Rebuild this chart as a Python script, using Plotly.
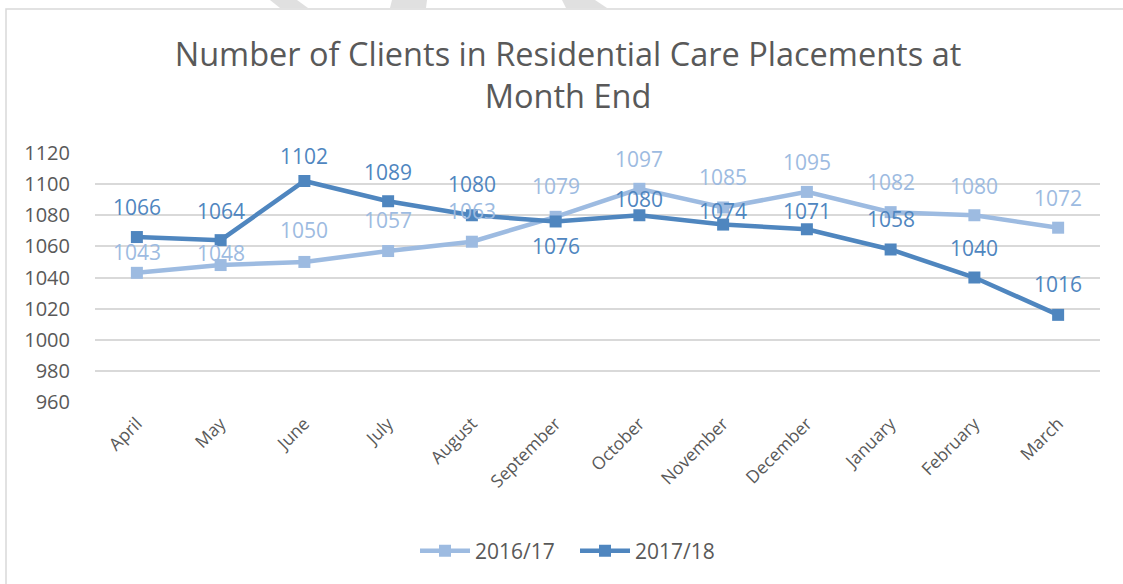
import plotly.graph_objects as go

months = ["April", "May", "June", "July", "August", "September", "October",
          "November", "December", "January", "February", "March"]
series_2016 = [1043, 1048, 1050, 1057, 1063, 1079, 1097, 1085, 1095, 1082, 1080, 1072]
series_2017 = [1066, 1064, 1102, 1089, 1080, 1076, 1080, 1074, 1071, 1058, 1040, 1016]
y_ticks = [960, 980, 1000, 1020, 1040, 1060, 1080, 1100, 1120]

# data-label placement (pixel offset above the marker; negative = below)
label_shift_2016 = [21, 12, 32, 31, 31, 31, 30, 30, 30, 30, 29, 30]
label_shift_2017 = [30, 29, 25, 29, 31, -25, 16, 14, 18, 30, 30, 31]

W, H = 1123, 584
L, R, T, B = 95, 23, 153, 182
PW, PH = W - L - R, H - T - B

def px(x):
    return (x - L) / PW

def py(y):
    return (H - B - y) / PH

C_LIGHT = "#9dbbe1"
C_DARK = "#4f86bf"
TXT = "#595959"
FONT = "Open Sans"

fig = go.Figure()
fig.add_trace(go.Scatter(x=months, y=series_2016, name="2016/17", mode="lines+markers",
                         line=dict(color=C_LIGHT, width=4.5),
                         marker=dict(symbol="square", size=12, color=C_LIGHT)))
fig.add_trace(go.Scatter(x=months, y=series_2017, name="2017/18", mode="lines+markers",
                         line=dict(color=C_DARK, width=4.5),
                         marker=dict(symbol="square", size=12, color=C_DARK)))

annotations = []
for vals, shifts, col in [(series_2016, label_shift_2016, C_LIGHT),
                          (series_2017, label_shift_2017, C_DARK)]:
    for m, v, s in zip(months, vals, shifts):
        annotations.append(dict(x=m, y=v, text=str(v), showarrow=False, yshift=s,
                                font=dict(family=FONT, size=21, color=col)))

shapes = [
    # chart border
    dict(type="rect", xref="paper", yref="paper", x0=px(6), x1=px(1135), y0=py(600), y1=py(9),
         line=dict(color="#d9d9d9", width=1.5), fillcolor="rgba(0,0,0,0)", layer="below"),
]
# faint watermark fragments at the very top
for path in [
    [(270, 0), (297, 0), (308, 8), (280, 8)],
    [(392, 0), (427, 0), (426, 8), (390, 8)],
    [(562, 0), (595, 0), (607, 8), (566, 8)],
]:
    d = "M " + " L ".join(f"{px(x)},{py(y)}" for x, y in path) + " Z"
    shapes.append(dict(type="path", xref="paper", yref="paper", path=d,
                       fillcolor="#e0e0e0", line=dict(width=0)))

fig.update_layout(
    width=W, height=H,
    margin=dict(l=L, r=R, t=T, b=B),
    paper_bgcolor="white", plot_bgcolor="white",
    font=dict(family=FONT, color=TXT),
    title=dict(text="Number of Clients in Residential Care Placements at<br>Month End",
               xref="container", x=568 / W, xanchor="center",
               yref="container", y=1 - 66 / H, yanchor="middle",
               font=dict(family=FONT, size=32.5, color=TXT)),
    xaxis=dict(type="category", tickangle=-45, showgrid=False, showline=False,
               ticks="", tickfont=dict(family=FONT, size=17.5, color=TXT),
               range=[-0.5, 11.5], ticklabelstandoff=7),
    yaxis=dict(range=[960, 1120], tickvals=y_ticks, showgrid=True, gridcolor="#d9d9d9",
               gridwidth=1.5, zeroline=False, showline=False, ticks="",
               tickfont=dict(family=FONT, size=20, color=TXT), ticklabelstandoff=24),
    legend=dict(orientation="h", xref="container", x=575 / W, xanchor="center",
                yref="container", y=1 - 551 / H, yanchor="middle",
                font=dict(family=FONT, size=21, color=TXT), itemwidth=50,
                entrywidth=95),
    annotations=annotations,
    shapes=shapes,
)

fig.write_html("out.html", config={"displayModeBar": False},
               post_script="document.body.style.margin='0';")
